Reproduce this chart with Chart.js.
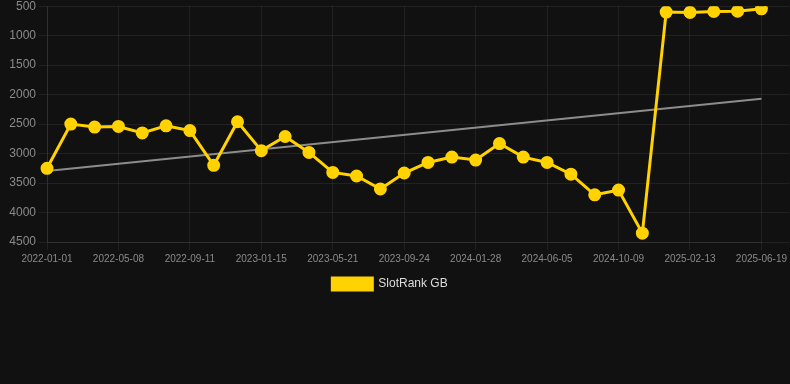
<!DOCTYPE html>
<html>
<head>
<meta charset="utf-8">
<script src="https://cdn.jsdelivr.net/npm/chart.js@4.4.0/dist/chart.umd.min.js"></script>
<style>
  html, body { margin: 0; padding: 0; background: #111111; overflow: hidden; }
  #wrap { width: 790px; height: 304px; margin-top: -4px; position: relative; }
</style>
</head>
<body>
<div id="wrap"><canvas id="chart"></canvas></div>
<script>
// dates on the x axis (one point every ~6 weeks)
const dates = [
  '2022-01-01', '2022-02-12', '2022-03-26', '2022-05-08', '2022-06-19', '2022-07-31',
  '2022-09-11', '2022-10-23', '2022-12-04', '2023-01-15', '2023-02-26', '2023-04-09',
  '2023-05-21', '2023-07-02', '2023-08-13', '2023-09-24', '2023-11-05', '2023-12-17',
  '2024-01-28', '2024-03-10', '2024-04-23', '2024-06-05', '2024-07-17', '2024-08-28',
  '2024-10-09', '2024-11-20', '2025-01-01', '2025-02-13', '2025-03-27', '2025-05-08',
  '2025-06-19'
];

// rank values (lower is better, axis is reversed)
const slotRank = [
  3250, 2500, 2550, 2540, 2650, 2530,
  2610, 3200, 2460, 2950, 2710, 2980,
  3320, 3380, 3600, 3330, 3150, 3060,
  3110, 2830, 3060, 3150, 3350, 3700,
  3620, 4350, 600, 605, 590, 585,
  545
];

// trend line end points
const trendStart = 3296;
const trendEnd = 2070;

const yTicks = [500, 1000, 1500, 2000, 2500, 3000, 3500, 4000, 4500];

const gridColor = 'rgba(255,255,255,0.07)';
const tickColor = '#8a8a8a';
Chart.defaults.font.family = "'Liberation Sans', Arial, Helvetica, sans-serif";

new Chart(document.getElementById('chart'), {
  type: 'line',
  data: {
    labels: dates,
    datasets: [
      {
        label: 'SlotRank GB',
        data: slotRank,
        borderColor: '#ffd200',
        backgroundColor: '#ffd200',
        borderWidth: 3,
        pointRadius: 5,
        pointHoverRadius: 6,
        tension: 0
      },
      {
        label: 'trend',
        data: [
          { x: dates[0], y: trendStart },
          { x: dates[dates.length - 1], y: trendEnd }
        ],
        borderColor: '#8c8c8c',
        borderWidth: 2,
        pointRadius: 0,
        fill: false
      }
    ]
  },
  options: {
    responsive: true,
    maintainAspectRatio: false,
    animation: false,
    layout: { padding: { left: 0, right: 10 } },
    plugins: {
      legend: {
        position: 'bottom',
        labels: {
          color: '#dddddd',
          font: { size: 12 },
          boxWidth: 40,
          boxHeight: 12,
          filter: item => item.text !== 'trend'
        }
      },
      tooltip: { enabled: false }
    },
    scales: {
      x: {
        ticks: {
          color: tickColor,
          font: { size: 10 },
          maxRotation: 0,
          autoSkip: false,
          callback: (v, i) => (i % 3 === 0 ? dates[i] : '')
        },
        grid: {
          color: c => (c.index % 3 === 0 ? gridColor : 'transparent'),
          tickLength: 8
        },
        border: { color: gridColor }
      },
      y: {
        reverse: true,
        min: 500,
        max: 4500,
        afterBuildTicks: s => { s.ticks = yTicks.map(v => ({ value: v })); },
        afterFit: s => { s.width = 47; },
        ticks: { color: tickColor, font: { size: 12 }, callback: v => String(v) },
        grid: { color: gridColor, tickLength: 8 },
        border: { color: gridColor }
      },
      y2: {
        position: 'right',
        reverse: true,
        min: 500,
        max: 4500,
        afterBuildTicks: s => { s.ticks = yTicks.map(v => ({ value: v })); },
        afterFit: s => { s.width = 18; },
        ticks: { display: false },
        grid: { color: gridColor, drawOnChartArea: false, tickLength: 28 },
        border: { display: false }
      }
    }
  }
});
</script>
</body>
</html>
